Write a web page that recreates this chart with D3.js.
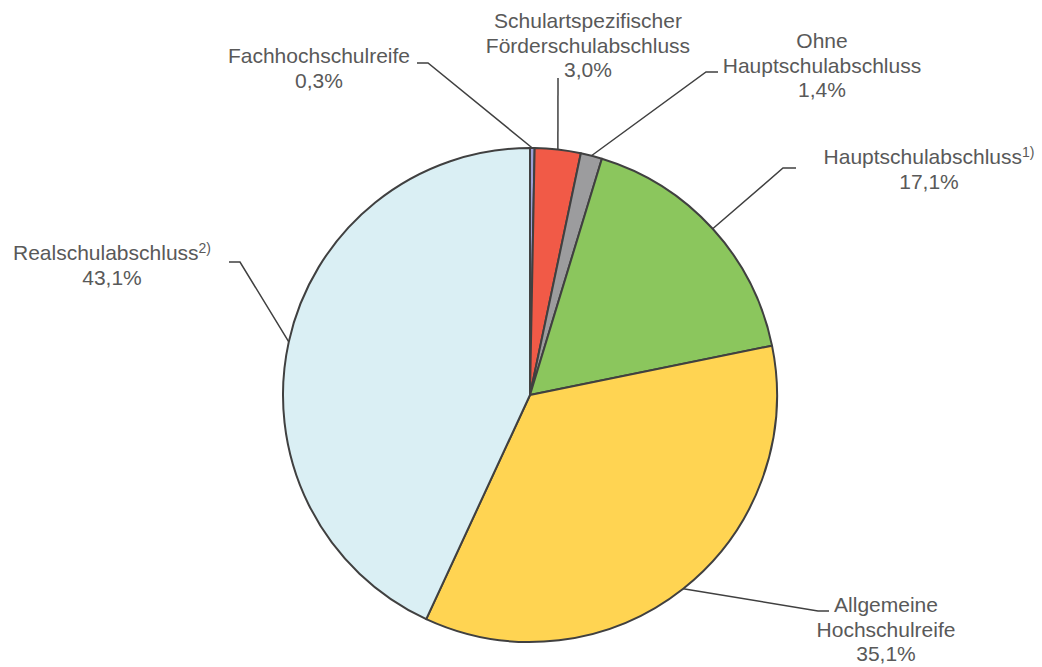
<!DOCTYPE html>
<html><head><meta charset="utf-8">
<script src="https://cdn.jsdelivr.net/npm/d3@7"></script>
<style>
html,body{margin:0;padding:0;background:#fff;}
svg{display:block;}
text{font-family:"Liberation Sans",Arial,sans-serif;fill:#595959;}
</style></head>
<body>
<script>
// ---- data ----
const categories = ["Fachhochschulreife", "Schulartspezifischer Förderschulabschluss", "Ohne Hauptschulabschluss", "Hauptschulabschluss", "Allgemeine Hochschulreife", "Realschulabschluss"];
const values = [0.3, 3.0, 1.4, 17.1, 35.1, 43.1];
const labelLines = [["Fachhochschulreife"], ["Schulartspezifischer", "Förderschulabschluss"], ["Ohne", "Hauptschulabschluss"], ["Hauptschulabschluss"], ["Allgemeine", "Hochschulreife"], ["Realschulabschluss"]];
const footnotes = ["", "", "", "1)", "", "2)"];
const colors = ["#9d9fd6", "#f15a47", "#9c9c9e", "#8bc65d", "#ffd452", "#daeff4"];

// ---- layout ----
const W = 1042, H = 667;
const cx = 530, cy = 395, R = 247;
const fontSize = 21, lineH = 24.5;
const layout = [
  {elbow: [428, 63], end: [417, 63], lx: 319, ly: 63},
  {elbow: null, end: [558, 78], lx: 588, ly: 28},
  {elbow: [706, 72], end: [718, 72], lx: 822, ly: 48},
  {elbow: [783, 168], end: [796, 168], lx: 929, ly: 164},
  {elbow: [818, 611], end: [829, 611], lx: 886, ly: 612},
  {elbow: [240, 262], end: [229, 262], lx: 112, ly: 260}
];

const svg = d3.select("body").append("svg").attr("width", W).attr("height", H);
const g = svg.append("g").attr("transform", `translate(${cx},${cy})`);

const pie = d3.pie().sort(null).value(d => d);
const arcs = pie(values);
const arc = d3.arc().innerRadius(0).outerRadius(R);

g.selectAll("path.slice").data(arcs).join("path")
  .attr("class", "slice")
  .attr("d", arc)
  .attr("fill", (d, i) => colors[i])
  .attr("stroke", "#404040")
  .attr("stroke-width", 2)
  .attr("stroke-linejoin", "round");

// leader lines
arcs.forEach((d, i) => {
  const a = (d.startAngle + d.endAngle) / 2;
  const p0 = [cx + R * Math.sin(a), cy - R * Math.cos(a)];
  const L = layout[i];
  const pts = [p0];
  if (L.elbow) pts.push(L.elbow);
  pts.push(L.end);
  svg.append("path")
    .attr("d", d3.line()(pts))
    .attr("fill", "none")
    .attr("stroke", "#404040")
    .attr("stroke-width", 1.5);
});

// labels
const fmt = v => d3.format(".1f")(v).replace(".", ",") + "%";
arcs.forEach((d, i) => {
  const L = layout[i];
  const lines = labelLines[i];
  const t = svg.append("text")
    .attr("text-anchor", "middle")
    .attr("font-size", fontSize);
  lines.forEach((ln, j) => {
    t.append("tspan").attr("x", L.lx).attr("y", L.ly + j * lineH).text(ln);
    if (j === lines.length - 1 && footnotes[i]) {
      t.append("tspan").attr("dy", -7).attr("font-size", 14).text(footnotes[i]);
    }
  });
  t.append("tspan").attr("x", L.lx).attr("y", L.ly + lines.length * lineH).text(fmt(values[i]));
});
</script>
</body></html>
